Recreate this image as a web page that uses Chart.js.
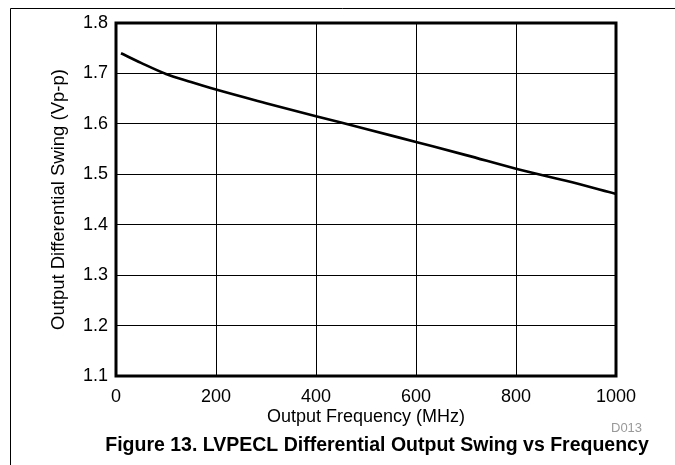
<!DOCTYPE html>
<html>
<head>
<meta charset="utf-8">
<title>LVPECL Differential Output Swing vs Frequency</title>
<script src="https://cdn.jsdelivr.net/npm/chart.js@4/dist/chart.umd.min.js"></script>
<style>
  html, body { margin: 0; padding: 0; background: #fff; }
  #wrap { position: relative; width: 675px; height: 465px; }
</style>
</head>
<body>
<div id="wrap"><canvas id="swingChart" width="675" height="465"></canvas></div>
<script>
// values
const frequencyMHz = [10, 50, 100, 150, 200, 300, 400, 500, 600, 700, 800, 900, 1000];
const swingVpp = [1.740, 1.721, 1.699, 1.683, 1.668, 1.641, 1.615, 1.590, 1.564, 1.538, 1.511, 1.487, 1.461];

const xTicks = [0, 200, 400, 600, 800, 1000];
const yTicks = [1.1, 1.2, 1.3, 1.4, 1.5, 1.6, 1.7, 1.8];

const xTitle = 'Output Frequency (MHz)';
const yTitle = 'Output Differential Swing (Vp-p)';
const figureCaption = 'Figure 13. LVPECL Differential Output Swing vs Frequency';
const figureId = 'D013';

const FONT = '"Liberation Sans", Arial, sans-serif';

const framePlugin = {
  id: 'frame',
  afterDraw(chart) {
    const ctx = chart.ctx;
    const a = chart.chartArea;
    ctx.save();

    // thick plot border
    ctx.strokeStyle = '#000';
    ctx.lineWidth = 3;
    ctx.strokeRect(a.left, a.top, a.right - a.left, a.bottom - a.top);

    // page frame (left and top edges)
    ctx.lineWidth = 1;
    ctx.beginPath();
    ctx.moveTo(10.5, 465);
    ctx.lineTo(10.5, 8.5);
    ctx.lineTo(675, 8.5);
    ctx.stroke();

    ctx.fillStyle = '#999';
    ctx.font = '13px ' + FONT;
    ctx.textAlign = 'left';
    ctx.textBaseline = 'alphabetic';
    ctx.fillText(figureId, 611, 432);

    ctx.fillStyle = '#000';
    ctx.font = 'bold 19.5px ' + FONT;
    ctx.textAlign = 'center';
    ctx.fillText(figureCaption, 377, 451);
    ctx.restore();
  }
};

function createChart() {
  const points = frequencyMHz.map((f, i) => ({ x: f, y: swingVpp[i] }));

  return new Chart(document.getElementById('swingChart'), {
    type: 'line',
    data: {
      datasets: [{
        data: points,
        borderColor: '#000',
        borderWidth: 2.6,
        pointRadius: 0,
        fill: false,
        cubicInterpolationMode: 'monotone'
      }]
    },
    options: {
      responsive: false,
      animation: false,
      events: [],
      layout: { padding: { left: 0, right: 59, top: 23, bottom: 34 } },
      plugins: {
        legend: { display: false },
        tooltip: { enabled: false }
      },
      scales: {
        x: {
          type: 'linear',
          min: 0,
          max: 1000,
          afterFit: (scale) => { scale.height = 55; },
          afterBuildTicks: (scale) => { scale.ticks = xTicks.map(v => ({ value: v })); },
          grid: { color: '#000', lineWidth: 1, drawTicks: false },
          border: { display: false },
          ticks: {
            color: '#000',
            padding: 10,
            maxRotation: 0,
            font: { family: FONT, size: 18 },
            callback: (v) => String(v)
          },
          title: {
            display: true,
            text: xTitle,
            color: '#000',
            font: { family: FONT, size: 18 },
            padding: { top: 0, bottom: 3 }
          }
        },
        y: {
          type: 'linear',
          min: 1.1,
          max: 1.8,
          afterFit: (scale) => { scale.width = 116; },
          afterBuildTicks: (scale) => { scale.ticks = yTicks.map(v => ({ value: v })); },
          grid: { color: '#000', lineWidth: 1, drawTicks: false },
          border: { display: false },
          ticks: {
            color: '#000',
            padding: 8,
            font: { family: FONT, size: 18 },
            callback: (v) => Number(v).toFixed(1)
          },
          title: {
            display: true,
            text: yTitle,
            color: '#000',
            font: { family: FONT, size: 18.5 },
            padding: { top: 48, bottom: 0 }
          }
        }
      }
    },
    plugins: [framePlugin]
  });
}

window.addEventListener('load', createChart);
</script>
</body>
</html>
